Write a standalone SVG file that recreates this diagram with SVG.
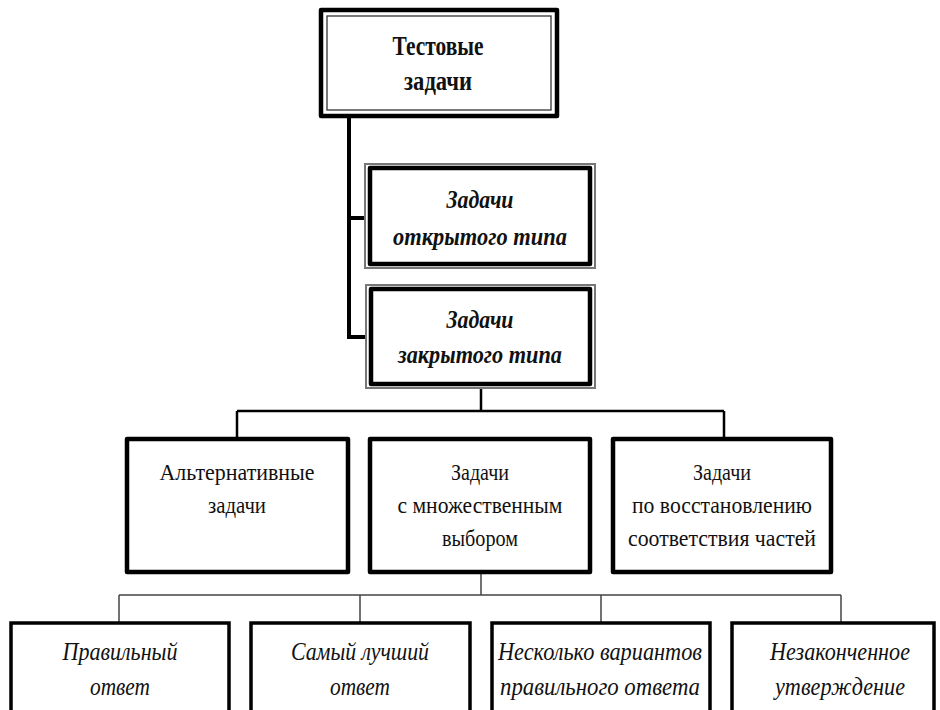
<svg xmlns="http://www.w3.org/2000/svg" width="940" height="710" viewBox="0 0 940 710">
<style>
.box{fill:#fff;stroke:#000;stroke-width:4.5;stroke-linejoin:round}
.sbox{fill:#fff;stroke:#000;stroke-width:3.5}
.thin{fill:none;stroke:#333;stroke-width:1.3}
.gray{fill:#fff;stroke:#777;stroke-width:2}
.c1{fill:none;stroke:#000;stroke-width:4}
.c2{fill:none;stroke:#000;stroke-width:2.5}
.c3{fill:none;stroke:#444;stroke-width:1.5}
text{font-family:"Liberation Serif","Times New Roman",serif;fill:#111;text-anchor:middle}
</style>
<rect width="940" height="710" fill="#fff"/>
<g id="connectors">
<path class="c1" d="M349 117 V337 H366 M349 218 H365"/>
<path class="c2" d="M481 388 V411 M237 411 H724 M237 411 V438 M724 411 V438"/>
<path class="c3" d="M481 573 V595 M119 595 H841 M119 595 V622 M360 595 V622 M601 595 V622 M841 595 V622"/>
</g>
<g id="n-root">
<rect class="box" x="321" y="10" width="236" height="106" stroke-width="5"/>
<rect class="thin" x="327" y="16" width="224" height="94"/>
<text font-weight="bold" x="438" y="55" font-size="28" textLength="91" lengthAdjust="spacingAndGlyphs">Тестовые</text>
<text font-weight="bold" x="438" y="90" font-size="28" textLength="68" lengthAdjust="spacingAndGlyphs">задачи</text>
</g>
<g id="n-open">
<rect class="gray" x="365" y="164" width="230" height="104"/>
<rect class="box" x="370" y="168" width="220" height="96" stroke-width="4"/>
<text font-weight="bold" font-style="italic" x="480" y="208" font-size="26" textLength="67" lengthAdjust="spacingAndGlyphs">Задачи</text>
<text font-weight="bold" font-style="italic" x="480" y="245" font-size="26" textLength="174" lengthAdjust="spacingAndGlyphs">открытого типа</text>
</g>
<g id="n-closed">
<rect class="gray" x="366" y="285" width="229" height="103"/>
<rect class="box" x="371" y="289" width="219" height="95" stroke-width="4"/>
<text font-weight="bold" font-style="italic" x="480" y="328" font-size="26" textLength="67" lengthAdjust="spacingAndGlyphs">Задачи</text>
<text font-weight="bold" font-style="italic" x="480" y="363" font-size="26" textLength="164" lengthAdjust="spacingAndGlyphs">закрытого типа</text>
</g>
<g id="n-alt">
<rect class="box" x="127" y="439" width="221" height="133"/>
<text x="237" y="480" font-size="24" textLength="155" lengthAdjust="spacingAndGlyphs">Альтернативные</text>
<text x="237" y="513" font-size="24" textLength="58" lengthAdjust="spacingAndGlyphs">задачи</text>
</g>
<g id="n-multi">
<rect class="box" x="370" y="439" width="220" height="133"/>
<text x="480" y="480" font-size="24" textLength="58" lengthAdjust="spacingAndGlyphs">Задачи</text>
<text x="480" y="513" font-size="24" textLength="165" lengthAdjust="spacingAndGlyphs">с множественным</text>
<text x="480" y="546" font-size="24" textLength="76" lengthAdjust="spacingAndGlyphs">выбором</text>
</g>
<g id="n-match">
<rect class="box" x="613" y="439" width="218" height="133"/>
<text x="722" y="480" font-size="24" textLength="58" lengthAdjust="spacingAndGlyphs">Задачи</text>
<text x="722" y="513" font-size="24" textLength="180" lengthAdjust="spacingAndGlyphs">по восстановлению</text>
<text x="722" y="546" font-size="24" textLength="188" lengthAdjust="spacingAndGlyphs">соответствия частей</text>
</g>
<g id="n-correct">
<rect class="sbox" x="11" y="623" width="218" height="100"/>
<text font-style="italic" x="120" y="660" font-size="25" textLength="115" lengthAdjust="spacingAndGlyphs">Правильный</text>
<text font-style="italic" x="120" y="695" font-size="25" textLength="60" lengthAdjust="spacingAndGlyphs">ответ</text>
</g>
<g id="n-best">
<rect class="sbox" x="251" y="623" width="219" height="100"/>
<text font-style="italic" x="360" y="660" font-size="25" textLength="138" lengthAdjust="spacingAndGlyphs">Самый лучший</text>
<text font-style="italic" x="360" y="695" font-size="25" textLength="60" lengthAdjust="spacingAndGlyphs">ответ</text>
</g>
<g id="n-several">
<rect class="sbox" x="492" y="623" width="218" height="100"/>
<text font-style="italic" x="600" y="660" font-size="25" textLength="204" lengthAdjust="spacingAndGlyphs">Несколько вариантов</text>
<text font-style="italic" x="600" y="695" font-size="25" textLength="200" lengthAdjust="spacingAndGlyphs">правильного ответа</text>
</g>
<g id="n-incomplete">
<rect class="sbox" x="732" y="623" width="202" height="100"/>
<text font-style="italic" x="840" y="660" font-size="25" textLength="140" lengthAdjust="spacingAndGlyphs">Незаконченное</text>
<text font-style="italic" x="840" y="695" font-size="25" textLength="130" lengthAdjust="spacingAndGlyphs">утверждение</text>
</g>
</svg>
